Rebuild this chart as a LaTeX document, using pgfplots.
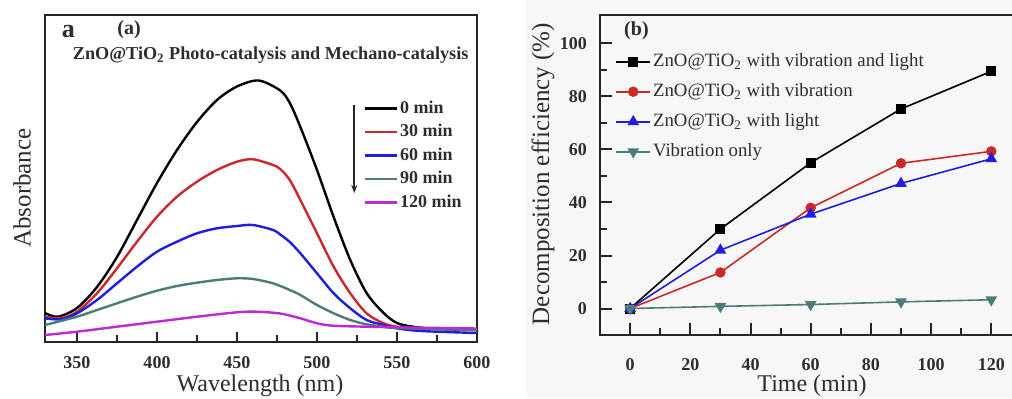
\documentclass[border=0pt]{standalone}
\usepackage{pgfplots}
\pgfplotsset{compat=1.18}
\usepackage{fontspec}
\setmainfont{Liberation Serif}
\usetikzlibrary{arrows.meta}
\definecolor{cRed}{RGB}{205,40,40}
\definecolor{cBlue}{RGB}{30,30,225}
\definecolor{cTeal}{RGB}{75,125,120}
\definecolor{cMag}{RGB}{190,40,215}
\definecolor{txt}{RGB}{45,45,45}

\pgfplotstableread{
x y
330 29
338 25.3
350 34
362.5 55
375 85
387.5 122
400 159
412.5 192
425 220
437.5 242
450 255.5
463.5 261.5
477 251.5
483 239
489.6 215
500 172
510.4 125
520.8 82
531 49
541.6 29
550 19
560 15.3
575 13
600 12
}\tblA
\pgfplotstableread{
x y
330 25.3
340 23.7
350 30.3
362.5 48.7
375 73.7
387.5 100.3
400 125.3
412.5 145.3
425 160.3
437.5 172
450 180.3
460 182.7
472.5 177
477 173
483 162
489.6 142
500 108.7
510.4 75.3
520.8 48.7
531 28.7
541.6 18.7
550 15.3
560 14
600 12
}\tblB
\pgfplotstableread{
x y
330 23.7
340 22.7
350 28.7
362.5 42
375 58.7
387.5 75.3
400 90.3
412.5 100.3
425 108.7
437.5 113.7
450 116
460 117
472.5 112
477 107.5
483 100
489.6 88.7
500 68.7
510.4 48.7
520.8 33.7
531 22
541.6 17
550 13.7
565 11
600 9
}\tblC
\pgfplotstableread{
x y
330 17
350 25.3
362.5 32
375 38.7
387.5 45.3
400 51.3
412.5 56
425 59.3
437.5 62
450 63.7
460 63
472.5 58.7
483 52
489.6 47
500 37
510.4 28.7
520.8 22
531 17.7
541.6 15.3
550 14
600 12
}\tblD
\pgfplotstableread{
x y
330 7
350 10.3
375 15.3
400 20.3
425 25.3
450 29.7
462 30.3
477 28.5
489.6 23.7
500 18.7
510 16.3
531 15.3
550 14.7
600 13.5
}\tblE

\begin{document}
\begin{tikzpicture}
\useasboundingbox (0,0) rectangle (506pt,199pt);
\clip (0,0) rectangle (506pt,199pt);
\fill[white] (0,0) rectangle (506pt,199pt);
\fill[black!3] (263pt,0) rectangle (506pt,199pt);

% ---------------- left panel ----------------
\begin{axis}[
  at={(22.5pt,28pt)}, anchor=south west, scale only axis,
  width=216pt, height=163.5pt,
  xmin=330, xmax=600, ymin=0, ymax=327,
  clip=false,
  axis line style={line width=1.2pt, black!85},
  xtick={350,400,...,600}, minor x tick num=1, ytick=\empty,
  tick pos=left, tick align=inside,
  major tick length=5pt, minor tick length=3.5pt,
  tick style={line width=1pt, black!85},
  /pgf/number format/assume math mode=true,
  xticklabel style={font=\bfseries\fontsize{9}{10}\selectfont, text=txt, anchor=base, yshift=-13pt},
  legend style={at={(axis cs:529,245)}, anchor=north west, draw=none, fill=none,
    inner sep=0pt, row sep=0.75pt, text=txt,
    font=\bfseries\fontsize{9}{10}\selectfont,
    nodes={inner sep=1pt, text height=7pt, text depth=2pt}},
  legend cell align=left,
  legend image code/.code={\draw[#1] (0pt,0pt) -- (16pt,0pt);},
]
\addplot[black, line width=1.2pt, smooth] table {\tblA};
\addlegendentry{0 min}
\addplot[cRed, line width=1.2pt, smooth] table {\tblB};
\addlegendentry{30 min}
\addplot[cBlue, line width=1.2pt, smooth] table {\tblC};
\addlegendentry{60 min}
\addplot[cTeal, line width=1.2pt, smooth] table {\tblD};
\addlegendentry{90 min}
\addplot[cMag, line width=1.2pt, smooth] table {\tblE};
\addlegendentry{120 min}
\draw[black!85, line width=0.8pt, -{Stealth[length=4pt,width=3pt]}] (axis cs:523.3,237) -- (axis cs:523.3,149);
\node[anchor=base west, text=txt, font=\bfseries\fontsize{13}{14}\selectfont] at (axis cs:336.2,304) {a};
\node[anchor=base west, text=txt, font=\bfseries\fontsize{10}{11}\selectfont] at (axis cs:370.8,307) {(a)};
\node[anchor=base west, text=txt, font=\bfseries\fontsize{9.1}{10}\selectfont] at (axis cs:343,282) {ZnO@TiO\textsubscript{2} Photo-catalysis and Mechano-catalysis};
\end{axis}

% ---------------- right panel ----------------
\begin{axis}[
  at={(300pt,31.5pt)}, anchor=south west, scale only axis,
  width=210.7pt, height=160pt,
  xmin=-10, xmax=130, ymin=-10, ymax=110.75,
  axis line style={line width=1pt, black!85},
  xtick={0,20,...,120}, ytick={0,20,...,100},
  minor x tick num=1, minor y tick num=1,
  tick pos=left, tick align=inside,
  major tick length=6pt, minor tick length=3.5pt,
  tick style={line width=1pt, black!85},
  /pgf/number format/assume math mode=true,
  xticklabel style={font=\bfseries\fontsize{9}{10}\selectfont, text=txt, anchor=base, yshift=-17.5pt},
  yticklabel style={font=\bfseries\fontsize{9}{10}\selectfont, text=txt, xshift=-3pt},
  legend style={at={(axis cs:-5,97.5)}, anchor=north west, draw=none, fill=none,
    inner sep=0pt, row sep=3.8pt, text=txt,
    font=\fontsize{9.4}{11}\selectfont,
    nodes={inner sep=1pt, text height=7pt, text depth=2.2pt}},
  legend cell align=left,
  legend image code/.code={\draw[mark repeat=2,mark phase=2,#1] plot coordinates {(0pt,0pt) (8.5pt,0pt) (17pt,0pt)};},
]
\addplot[black, line width=0.8pt, mark=square*, mark size=2.1pt] coordinates {(0,0) (30,30) (60,55) (90,75.3) (120,89.5)};
\addlegendentry{ZnO@TiO\textsubscript{2} with vibration and light}
\addplot[cRed, line width=0.8pt, mark=*, mark size=2.2pt] coordinates {(0,0) (30,13.6) (60,38) (90,54.8) (120,59.3)};
\addlegendentry{ZnO@TiO\textsubscript{2} with vibration}
\addplot[cBlue, line width=0.8pt, mark=triangle*, mark size=2.6pt] coordinates {(0,0) (30,22) (60,35.6) (90,47.2) (120,56.5)};
\addlegendentry{ZnO@TiO\textsubscript{2} with light}
\addplot[cTeal, line width=0.8pt, mark=triangle*, mark size=2.6pt, mark options={rotate=180}] coordinates {(0,0) (30,0.8) (60,1.5) (90,2.5) (120,3.3)};
\addlegendentry{Vibration only}
\node[anchor=base west, text=txt, font=\bfseries\fontsize{10}{11}\selectfont] at (axis cs:-4.3,103.1) {(b)};
\end{axis}

% axis labels
\node[rotate=90, text=txt, font=\fontsize{12.5}{14}\selectfont] at (11pt,105pt) {Absorbance};
\node[anchor=base, text=txt, font=\fontsize{12}{14}\selectfont] at (130pt,3.3pt) {Wavelength (nm)};
\node[anchor=base, text=txt, font=\fontsize{12}{14}\selectfont] at (406pt,3.3pt) {Time (min)};
\node[rotate=90, text=txt, font=\fontsize{12.5}{14}\selectfont] at (271.5pt,112pt) {Decomposition efficiency (\%)};
\end{tikzpicture}
\end{document}
